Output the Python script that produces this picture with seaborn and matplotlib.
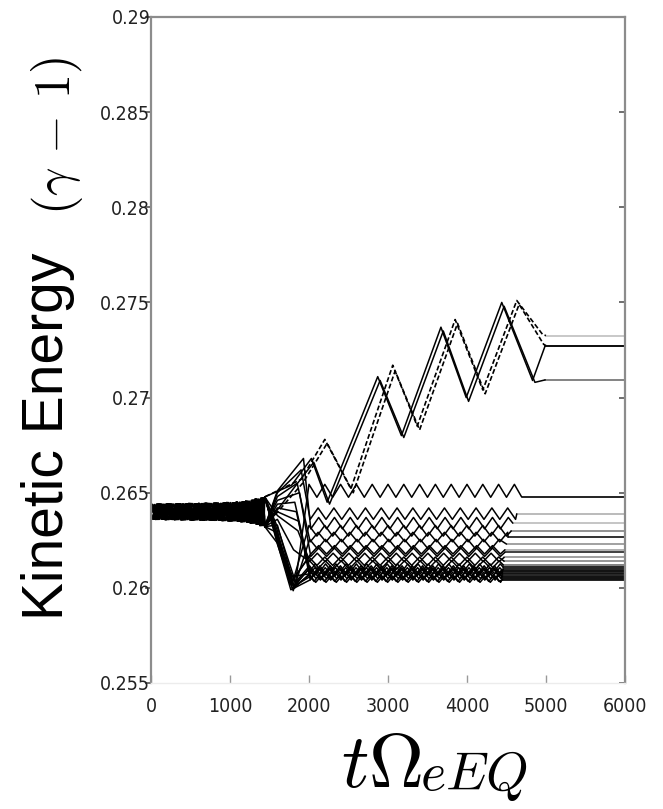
import matplotlib
matplotlib.use("Agg")
import matplotlib.pyplot as plt
import numpy as np
import pandas as pd
import seaborn as sns

# ---------------- data ----------------
x_ticks = [0, 1000, 2000, 3000, 4000, 5000, 6000]
x_tick_labels = ["0", "1000", "2000", "3000", "4000", "5000", "6000"]
y_ticks = [0.255, 0.26, 0.265, 0.27, 0.275, 0.28, 0.285, 0.29]
y_tick_labels = ["0.255", "0.26", "0.265", "0.27", "0.275", "0.28", "0.285", "0.29"]

# early common band: turning times and half-swing (grows before the split)
band_t = [0, 60, 120, 180, 240, 300, 360, 420, 480, 540, 600, 660, 720,
          780, 840, 900, 960, 1020, 1080, 1140, 1200, 1260, 1320, 1380, 1440]
band_center = 0.2640
band_swing = [0.00038, 0.00040, 0.00039, 0.00041, 0.00040, 0.00041, 0.00042,
              0.00041, 0.00043, 0.00042, 0.00043, 0.00044, 0.00043, 0.00045,
              0.00044, 0.00046, 0.00048, 0.00047, 0.00050, 0.00052, 0.00055,
              0.00060, 0.00066, 0.00072, 0.00078]

# late oscillation turning times (slow: upper trapped rows, fast: bottom rows)
osc_t_slow = [2000, 2100, 2200, 2300, 2400, 2500, 2600, 2700, 2800, 2900, 3000,
              3100, 3200, 3300, 3400, 3500, 3600, 3700, 3800, 3900, 4000, 4100,
              4200, 4300, 4400, 4500, 4600, 4700]
osc_t_fast = [2000, 2065, 2130, 2195, 2260, 2325, 2390, 2455, 2520, 2585, 2650,
              2715, 2780, 2845, 2910, 2975, 3040, 3105, 3170, 3235, 3300, 3365,
              3430, 3495, 3560, 3625, 3690, 3755, 3820, 3885, 3950, 4015, 4080,
              4145, 4210, 4275, 4340, 4405, 4470]

# trapped particles (lower bundle)
low_phase = [1, -1, 1, -1, 1, -1, 1, -1, 1, -1, 1, -1, 1, -1, 1, -1, 1, -1,
             1, -1, 1, -1]
low_fast = [0, 0, 0, 0, 0, 0, 0, 1, 1, 1, 1, 1, 1, 0, 1, 1, 0, 0, 1, 1, 1, 0]
low_mid_E = [0.26250, 0.26500, 0.26280, 0.26480, 0.26230, 0.26460, 0.26300,
             0.26440, 0.26240, 0.26420, 0.26260, 0.26400, 0.26320, 0.26510,
             0.26270, 0.26235, 0.26380, 0.26290, 0.26245, 0.26330, 0.26255,
             0.26360]
low_dip_t = [1820, 1900, 1780, 1850, 1800, 1880, 1760, 1820, 1790, 1840,
             1810, 1870, 1830, 1930, 1800, 1770, 1860, 1790, 1815, 1780,
             1835, 1805]
low_dip_E = [0.26000, 0.26620, 0.26010, 0.26550, 0.25985, 0.26500, 0.26020,
             0.26450, 0.25995, 0.26400, 0.26005, 0.26350, 0.26030, 0.26680,
             0.26010, 0.25990, 0.26300, 0.26040, 0.26000, 0.26060, 0.26015,
             0.26200]
low_level = [0.26510, 0.26390, 0.26300, 0.26267, 0.26230, 0.26187, 0.26140,
             0.26108, 0.26087, 0.26071, 0.26050, 0.26060, 0.26098, 0.26340,
             0.26080, 0.26060, 0.26120, 0.26200, 0.26065, 0.26090, 0.26045,
             0.26160]
low_swing = [0.00034, 0.00030, 0.00028, 0.00025, 0.00025, 0.00022, 0.00022,
             0.00018, 0.00018, 0.00018, 0.00016, 0.00018, 0.00018, 0.00030,
             0.00018, 0.00018, 0.00022, 0.00022, 0.00016, 0.00016, 0.00016,
             0.00022]
low_exit = [4690, 4630, 4560, 4520, 4500, 4480, 4470, 4460, 4450, 4450,
            4450, 4440, 4460, 4580, 4450, 4440, 4460, 4480, 4450, 4450,
            4440, 4470]
low_final = [0.26479, 0.26389, 0.26299, 0.26267, 0.26230, 0.26187, 0.26140,
             0.26108, 0.26087, 0.26071, 0.26044, 0.26058, 0.26098, 0.26340,
             0.26080, 0.26050, 0.26120, 0.26200, 0.26064, 0.26090, 0.26040,
             0.26160]
low_shift = [0, 30, 0, 30, 15, 45, 0, 30, 15, 45, 0, 30, 15, 45, 0, 30, 15,
             45, 50, 20, 40, 10]
low_flat_color = ["#111111", "#b5b5b5", "#8a8a8a", "#222222", "#9a9a9a",
                  "#333333", "#8f8f8f", "#111111", "#111111", "#111111",
                  "#111111", "#111111", "#111111", "#c0c0c0", "#111111",
                  "#111111", "#777777", "#aaaaaa", "#111111", "#111111",
                  "#111111", "#999999"]

# accelerated particles (big rising waves): turning points after the band
rise_t = [
    [1780, 2030, 2230, 2870, 3170, 3670, 3990, 4440, 4830, 4990],
    [1800, 2060, 2260, 2900, 3200, 3700, 4020, 4470, 4860, 4990],
    [1900, 2200, 2530, 3060, 3370, 3850, 4200, 4630, 4960, 5000],
    [1920, 2230, 2560, 3090, 3400, 3880, 4230, 4660, 4970, 5000],
]
rise_E = [
    [0.2654, 0.2668, 0.2645, 0.2711, 0.2680, 0.2737, 0.2700, 0.2750, 0.2709, 0.27273],
    [0.2652, 0.2666, 0.2644, 0.2709, 0.2679, 0.2735, 0.2698, 0.2748, 0.2708, 0.27093],
    [0.2657, 0.2678, 0.2652, 0.2717, 0.2685, 0.2741, 0.2704, 0.2751, 0.2733, 0.27326],
    [0.2655, 0.2676, 0.2650, 0.2714, 0.2683, 0.2739, 0.2702, 0.2749, 0.2728, 0.27273],
]
rise_phase = [1, -1, 1, -1]
rise_flat_color = ["#000000", "#7a7a7a", "#c4c4c4", "#111111"]

# ---------------- build long-form tables ----------------
rows = []
flat_rows = []
flat_palette = {}

def add_band(name, phase, shift):
    for k, tt in enumerate(band_t):
        sgn = phase if k % 2 == 0 else -phase
        rows.append((name, min(tt + shift, 1440), band_center + sgn * band_swing[k]))

for i in range(len(low_level)):
    name = f"low{i}"
    add_band(name, low_phase[i], low_shift[i])
    rows.append((name, 1600, low_mid_E[i]))
    rows.append((name, low_dip_t[i], low_dip_E[i]))
    nodes = osc_t_fast if low_fast[i] else osc_t_slow
    for k, tt in enumerate(nodes):
        if tt < low_exit[i]:
            sgn = low_phase[i] if k % 2 == 0 else -low_phase[i]
            rows.append((name, tt + low_shift[i] * 0.5, low_level[i] + sgn * low_swing[i]))
    rows.append((name, low_exit[i], low_final[i]))
    flat_rows.append((name + "f", low_exit[i], low_final[i]))
    flat_rows.append((name + "f", 6000, low_final[i]))
    flat_palette[name + "f"] = low_flat_color[i]

for i in range(len(rise_t)):
    name = f"rise{i}"
    add_band(name, rise_phase[i], 15 * i)
    for tt, ee in zip(rise_t[i], rise_E[i]):
        rows.append((name, tt, ee))
    flat_rows.append((name + "f", rise_t[i][-1], rise_E[i][-1]))
    flat_rows.append((name + "f", 6000, rise_E[i][-1]))
    flat_palette[name + "f"] = rise_flat_color[i]

df = pd.DataFrame(rows, columns=["traj", "t", "E"])
df_flat = pd.DataFrame(flat_rows, columns=["traj", "t", "E"])

# ---------------- figure ----------------
sns.set_style("white")
plt.rcParams["mathtext.fontset"] = "cm"
plt.rcParams["font.family"] = ["DejaVu Sans"]

fig = plt.figure(figsize=(6.63, 8.09), dpi=100)
ax = fig.add_axes([151 / 663, 1 - 683 / 809, (625 - 151) / 663, (683 - 17) / 809])

sns.lineplot(data=df_flat, x="t", y="E", hue="traj", palette=flat_palette,
             units="traj", estimator=None, sort=False, linewidth=1.3, ax=ax,
             legend=False)
solid = df[df["traj"].isin([f"low{i}" for i in range(len(low_level))] + ["rise0", "rise1"])]
dashed = df[df["traj"].isin(["rise2", "rise3"])]
sns.lineplot(data=solid, x="t", y="E", units="traj", estimator=None, sort=False,
             color="black", linewidth=1.1, ax=ax, legend=False)
sns.lineplot(data=dashed, x="t", y="E", units="traj", estimator=None, sort=False,
             color="black", linewidth=1.2, linestyle=(0, (3, 1.5)), ax=ax, legend=False)

ax.set_xlim(0, 6000)
ax.set_ylim(0.255, 0.29)
ax.set_xticks(x_ticks)
ax.set_yticks(y_ticks)
tick_font = dict(family=["DejaVu Sans"], stretch="condensed", size=14)
ax.set_xticklabels(x_tick_labels, fontdict=tick_font)
ax.set_yticklabels(y_tick_labels, fontdict=tick_font)
ax.set_xlabel("")
ax.set_ylabel("")

for s in ["left", "right", "top"]:
    ax.spines[s].set_color("#8c8c8c")
    ax.spines[s].set_linewidth(1.6)
ax.spines["bottom"].set_color("#ececec")
ax.spines["bottom"].set_linewidth(1.0)

ax.yaxis.set_ticks_position("both")
ax.tick_params(axis="y", which="both", direction="in", length=4, width=1.2,
               color="#555555", pad=0.5, labelcolor="#222222")
for t in ax.yaxis.get_major_ticks():
    t.tick1line.set_marker(matplotlib.lines.TICKLEFT)
ax.tick_params(axis="x", bottom=True, top=False, direction="in", length=6,
               width=1.0, color="#999999", pad=10, labelcolor="#222222")

# labels
fig.text(63 / 663, 1 - 620 / 809, "Kinetic Energy", rotation=90, rotation_mode="anchor",
         ha="left", va="baseline", fontsize=41, family=["Liberation Sans", "DejaVu Sans"],
         color="black")
fig.text(70 / 663, 1 - 215 / 809, r"$(\gamma\,-\,1)$", rotation=90, rotation_mode="anchor",
         ha="left", va="baseline", fontsize=36, color="black")
fig.text(422 / 663, 1 - 787 / 809, r"$t\Omega$", ha="right", va="baseline",
         fontsize=55, color="black")
fig.text(420 / 663, 1 - 790 / 809, r"$eEQ$", ha="left", va="baseline",
         fontsize=39, color="black")

fig.savefig("out.png", dpi=100)
